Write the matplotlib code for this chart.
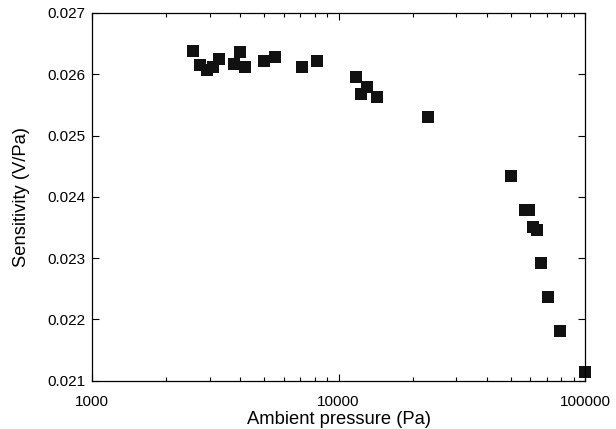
import matplotlib
matplotlib.use('Agg')
import matplotlib.pyplot as plt
from matplotlib.ticker import FuncFormatter, LogLocator, NullFormatter

# Values.
pressure = [2557, 2730, 2936, 3083, 3261, 3750, 3966, 4156, 4963, 5501,
            7078, 8143, 11722, 12285, 12991, 14264, 22966, 50200, 56837,
            59382, 61234, 63560, 65990, 70920, 78800, 100000]
sensitivity = [0.026375, 0.026145, 0.026064, 0.026114, 0.026243, 0.026162,
               0.026357, 0.026126, 0.026210, 0.026289, 0.026126, 0.026210,
               0.025949, 0.025685, 0.025786, 0.025623, 0.025310, 0.024336,
               0.023790, 0.023790, 0.023516, 0.023453, 0.022915, 0.022370,
               0.021803, 0.021137]
y_ticks = [0.021, 0.022, 0.023, 0.024, 0.025, 0.026, 0.027]
x_ticks = [1000, 10000, 100000]

plt.rcParams['font.family'] = ['Liberation Sans', 'DejaVu Sans']

fig = plt.figure(figsize=(6.16, 4.29), dpi=100)
ax = fig.add_axes([0.1494, 0.1126, 0.8003, 0.8571])

# Square markers, not clipped so the last point can sit over the spine.
ax.plot(pressure, sensitivity, 's', color='#111111', markersize=8,
        markeredgewidth=0, clip_on=False)

ax.set_xscale('log')
ax.set_xlim(1000, 100000)
ax.set_ylim(0.021, 0.027)
ax.set_xticks(x_ticks)
ax.set_yticks(y_ticks)
ax.xaxis.set_minor_locator(LogLocator(base=10, subs=range(2, 10)))
ax.xaxis.set_minor_formatter(NullFormatter())
ax.xaxis.set_major_formatter(FuncFormatter(lambda v, p: '%d' % v))
ax.yaxis.set_major_formatter(FuncFormatter(lambda v, p: '%.3f' % v))

ax.tick_params(which='both', direction='in', top=True, right=True,
               labelsize=11, width=0.8)
ax.tick_params(which='major', length=5)
ax.tick_params(which='minor', length=3)
ax.tick_params(axis='y', pad=5)
ax.tick_params(axis='x', pad=10)
for s in ax.spines.values():
    s.set_linewidth(0.9)

ax.set_xlabel("Ambient pressure (Pa)", fontsize=13.2, labelpad=2)
ax.set_ylabel("Sensitivity (V/Pa)", fontsize=13.2, labelpad=12.5)

fig.savefig("out.png", dpi=100)
